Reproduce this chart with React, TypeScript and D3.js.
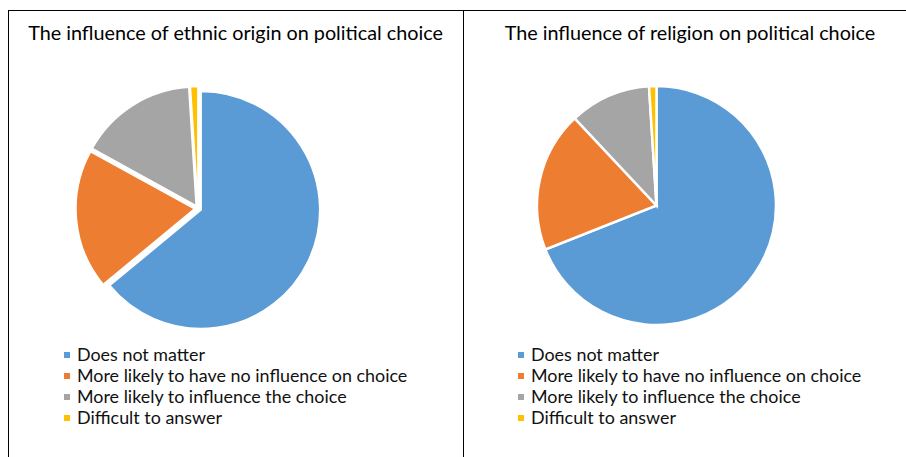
import React from "react";
import * as d3 from "d3";

const categories = [
  "Does not matter",
  "More likely to have no influence on choice",
  "More likely to influence the choice",
  "Difficult to answer",
];
const ethnicValues = [64, 19, 16, 1];
const religionValues = [69, 19, 11, 1];
const titles = [
  "The influence of ethnic origin on political choice",
  "The influence of religion on political choice",
];
const colors = ["#5B9BD5", "#ED7D31", "#A5A5A5", "#FFC000"];

const W = 906;
const H = 457;
const FONT = "Lato, 'Open Sans', sans-serif";

type PieProps = {
  values: number[];
  cx: number;
  cy: number;
  r: number;
  explode: number;
  stroke: number;
};

function Pie({ values, cx, cy, r, explode, stroke }: PieProps) {
  const pie = d3
    .pie<number>()
    .sort(null)
    .value((d) => d)
    .startAngle(0)
    .endAngle(2 * Math.PI);
  const arc = d3.arc<d3.PieArcDatum<number>>().innerRadius(0).outerRadius(r);
  const arcs = pie(values);
  return (
    <g transform={`translate(${cx},${cy})`}>
      {arcs.map((a, i) => {
        const mid = (a.startAngle + a.endAngle) / 2;
        const dx = explode * Math.sin(mid);
        const dy = -explode * Math.cos(mid);
        return (
          <path
            key={i}
            d={arc(a) || ""}
            transform={`translate(${dx},${dy})`}
            fill={colors[i]}
            stroke="#fff"
            strokeWidth={stroke}
            strokeLinejoin="miter"
          />
        );
      })}
    </g>
  );
}

function Legend({ x, y }: { x: number; y: number }) {
  const step = 21;
  return (
    <g>
      {categories.map((c, i) => (
        <g key={c} transform={`translate(${x},${y + i * step})`}>
          <rect x={0} y={-3} width={6} height={6} fill={colors[i]} />
          <text
            x={13}
            y={6}
            fontFamily={FONT}
            fontSize={17.9}
            fill="#111"
          >
            {c}
          </text>
        </g>
      ))}
    </g>
  );
}

export default function App() {
  return (
    <svg
      width={W}
      height={H}
      style={{ position: "absolute", left: 0, top: 0, background: "#fff" }}
    >
      <rect x={0} y={0} width={W} height={H} fill="#fff" />
      <line x1={8} y1={10.5} x2={W} y2={10.5} stroke="#000" strokeWidth={1} />
      <line x1={8.5} y1={10} x2={8.5} y2={H} stroke="#000" strokeWidth={1} />
      <line x1={463.5} y1={10} x2={463.5} y2={H} stroke="#000" strokeWidth={1} />

      <text
        x={235.5}
        y={40}
        textAnchor="middle"
        fontFamily={FONT}
        fontSize={19.8}
        fill="#000"
      >
        {titles[0]}
      </text>
      <text
        x={690}
        y={40}
        textAnchor="middle"
        fontFamily={FONT}
        fontSize={19.8}
        fill="#000"
      >
        {titles[1]}
      </text>

      <Pie values={ethnicValues} cx={198} cy={208.5} r={118.5} explode={3.5} stroke={1.5} />
      <Pie values={religionValues} cx={656.5} cy={205.5} r={119.5} explode={0} stroke={2.5} />

      <Legend x={64} y={355} />
      <Legend x={518} y={355} />
    </svg>
  );
}
